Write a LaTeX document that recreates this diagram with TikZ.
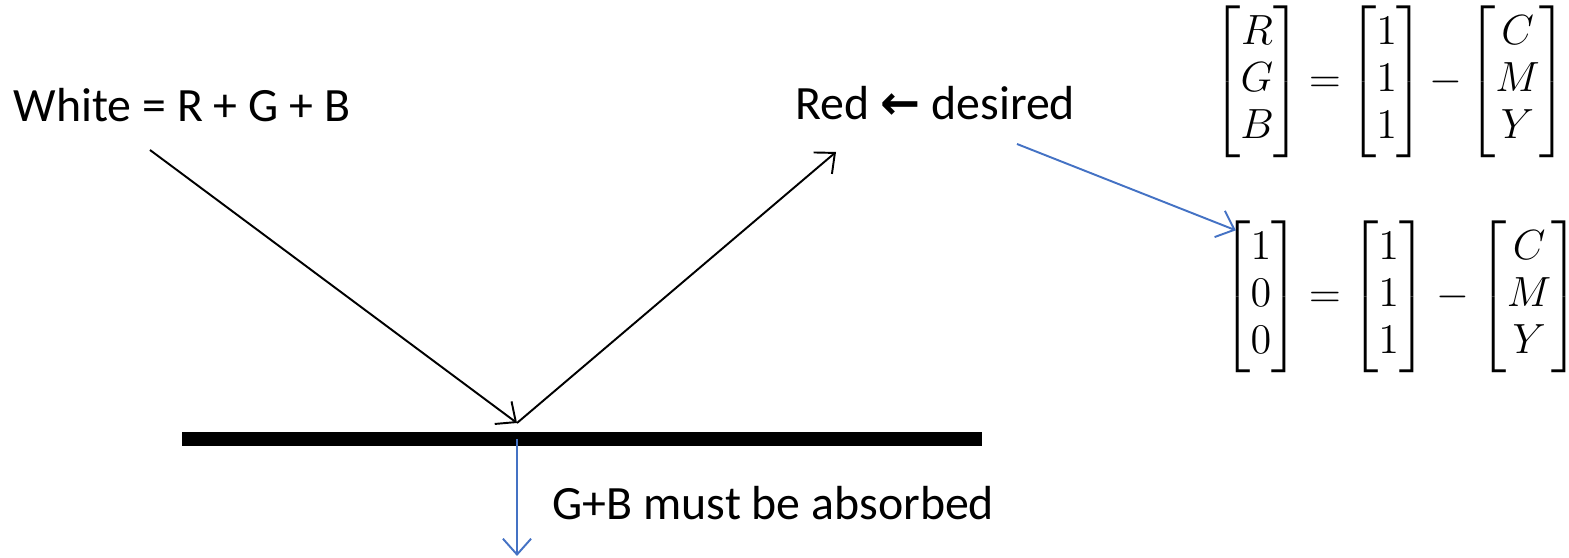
\documentclass[tikz,border=0pt]{standalone}
\usepackage{amsmath}
\usepackage{fontspec}
\setmainfont{Carlito}
\newfontfamily\arrowfont{DejaVu Sans}
\usetikzlibrary{positioning, arrows.meta, calc}
\definecolor{officeblue}{HTML}{4472C4}
\newcommand{\tightmat}{\renewcommand{\arraystretch}{0.87}}

\begin{document}
\begin{tikzpicture}[
			x=0.01cm, y=-0.01cm,
			font=\fontsize{13.6}{16.3}\selectfont,
			lbl/.style={anchor=base west, inner sep=0pt},
			eqn/.style={inner sep=0pt, font=\fontsize{12.8}{15.4}\selectfont},
			ray/.style={-{Straight Barb[length=4.5pt,width=8pt]}, line width=0.55pt},
			hint/.style={ray, draw=officeblue},
			surface/.style={fill=black, minimum width=8cm, minimum height=0.14cm, inner sep=0pt}
			]
			\useasboundingbox (0,0) rectangle (1569,558);
			\node[lbl] (white) at (13,122) {White = R + G + B};
			\node[lbl] (red) at (795,120) {Red {\arrowfont\bfseries ←} desired};
			\node[lbl] (absorb) at (552,520) {G+B must be absorbed};
			\coordinate (rayin) at (150,150);
			\coordinate (hit) at (517,423);
			\coordinate (rayout) at (836,152);
			\coordinate (desired) at (1017,144);
			\node[surface] (mirror) at (582,439) {};
			\draw[ray] (rayin) -- (hit);
			\draw[ray] (hit) -- (rayout);
			\coordinate (sink) at (517,556);
			\draw[hint] (mirror.center -| hit) -- (sink);
			% colour equations
			\node[eqn] (rgb) at (1390,82) {\tightmat\thickmuskip=3mu\medmuskip=2mu%
				$\begin{bmatrix}R\\G\\B\end{bmatrix}=\begin{bmatrix}1\\1\\1\end{bmatrix}-\begin{bmatrix}C\\M\\Y\end{bmatrix}$};
			\node[eqn] (redeq) at (1401,297) {\tightmat\thickmuskip=4mu%
				$\begin{bmatrix}1\\0\\0\end{bmatrix}=\begin{bmatrix}1\\1\\1\end{bmatrix}-\begin{bmatrix}C\\M\\Y\end{bmatrix}$};
			\draw[hint] (desired) -- ($(redeq.north west)+(14,10)$);
		\end{tikzpicture}
\end{document}
